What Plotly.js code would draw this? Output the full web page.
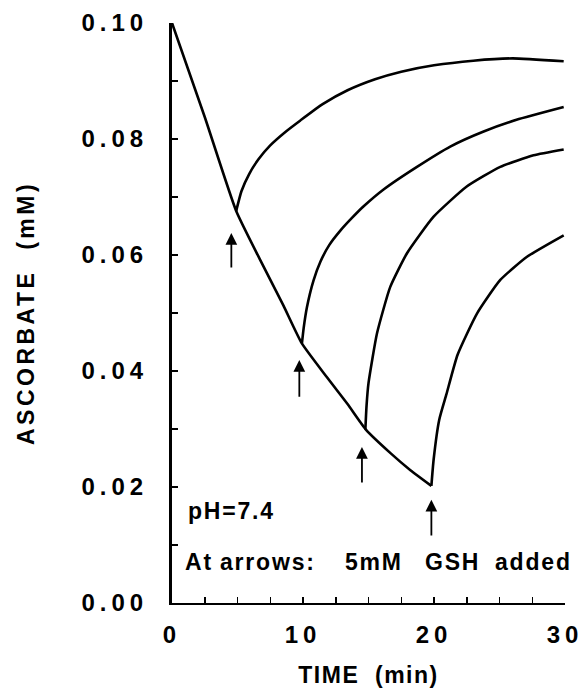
<!DOCTYPE html>
<html>
<head>
<meta charset="utf-8">
<script src="https://cdn.plot.ly/plotly-3.0.1.min.js"></script>
<style>
  html, body { margin: 0; padding: 0; background: #fff; }
  #chart { width: 585px; height: 688px; }
  .xtick text, .ytick text { letter-spacing: 5px; }
  .g-xtitle text { letter-spacing: 1.5px; }
  .g-ytitle text { letter-spacing: 3.5px; }
  .annotation-text { letter-spacing: 1.8px; }
</style>
</head>
<body>
<div id="chart"></div>
<script>
// Main decay curve (no GSH)
const mainTime = [0, 2.5, 4.9, 6.7, 8.5, 9.9, 11.8, 13.4, 14.8, 16.7, 18.2, 19.8];
const mainAsc  = [0.1000, 0.0838, 0.0676, 0.0593, 0.0513, 0.0448, 0.0390, 0.0343, 0.0299, 0.0258, 0.0229, 0.0202];

// Recovery after GSH added at ~5 min
const gsh5Time = [4.9, 5.3, 5.9, 6.6, 7.5, 8.7, 9.8, 11.5, 13.4, 15.5, 17.5, 20.0, 23.0, 26.0, 29.9];
const gsh5Asc  = [0.0676, 0.0710, 0.0740, 0.0765, 0.0789, 0.0813, 0.0832, 0.0860, 0.0884, 0.0903, 0.0916, 0.0927, 0.0935, 0.0939, 0.0934];

// Recovery after GSH added at ~10 min
const gsh10Time = [9.92, 10.05, 10.3, 10.8, 11.32, 12.0, 12.85, 13.7, 14.63, 16.15, 18.7, 21.24, 23.79, 26.3, 29.9];
const gsh10Asc  = [0.0448, 0.0474, 0.0510, 0.0556, 0.0588, 0.0617, 0.0642, 0.0663, 0.0684, 0.0713, 0.0752, 0.0787, 0.0813, 0.0833, 0.0855];

// Recovery after GSH added at ~15 min
const gsh15Time = [14.76, 14.85, 15.0, 15.65, 16.66, 17.94, 19.97, 22.5, 25.06, 27.6, 29.9];
const gsh15Asc  = [0.0299, 0.0340, 0.0379, 0.0465, 0.0545, 0.0603, 0.0666, 0.0718, 0.0752, 0.0772, 0.0782];

// Recovery after GSH added at ~20 min
const gsh20Time = [19.8, 19.97, 20.4, 20.95, 21.8, 23.28, 25.06, 27.1, 29.9];
const gsh20Asc  = [0.0202, 0.0247, 0.0316, 0.0360, 0.0428, 0.0499, 0.0557, 0.0597, 0.0634];

// Arrows marking GSH additions: x, tip, tail
const arrowTime = [4.53, 9.72, 14.5, 19.8];
const arrowTip  = [0.0638, 0.0419, 0.0269, 0.0178];
const arrowTail = [0.0576, 0.0353, 0.0205, 0.0114];

// Axis ticks
const xTickVals = [0, 10, 20, 30];
const xTickText = ['0', '10', '20', '30'];
const yTickVals = [0, 0.02, 0.04, 0.06, 0.08, 0.10];
const yTickText = ['0.00', '0.02', '0.04', '0.06', '0.08', '0.10'];

// Text labels
const noteWords = ['At', 'arrows:', '5mM', 'GSH', 'added'];
const noteX = [0.86, 3.5, 13.07, 19.18, 24.5];
const noteY = 0.0071;
const phLabel = 'pH=7.4';
const phX = 1.1, phY = 0.0158;

const FONT = 'Liberation Sans, Arial, Helvetica, sans-serif';
const lineStyle = {color: '#000', width: 2.6, shape: 'spline', smoothing: 0.5};

const series = [
  [mainTime, mainAsc], [gsh5Time, gsh5Asc], [gsh10Time, gsh10Asc],
  [gsh15Time, gsh15Asc], [gsh20Time, gsh20Asc]
];
const traces = series.map(s => ({
  x: s[0], y: s[1], type: 'scatter', mode: 'lines',
  line: lineStyle, hoverinfo: 'skip'
}));

const textFont = {family: FONT, size: 23, color: '#000', weight: 'bold'};

const annotations = [];
arrowTime.forEach((t, i) => {
  annotations.push({
    x: t, y: arrowTip[i], ax: t, ay: arrowTail[i],
    xref: 'x', yref: 'y', axref: 'x', ayref: 'y',
    text: '', showarrow: true, arrowhead: 2, arrowsize: 1.3,
    arrowwidth: 1.8, arrowcolor: '#000', standoff: 0, startstandoff: 0
  });
});
noteWords.forEach((w, i) => {
  annotations.push({
    x: noteX[i], y: noteY, xref: 'x', yref: 'y', text: w,
    showarrow: false, xanchor: 'left', yanchor: 'middle', font: textFont
  });
});
annotations.push({
  x: phX, y: phY, xref: 'x', yref: 'y', text: phLabel,
  showarrow: false, xanchor: 'left', yanchor: 'middle', font: textFont
});

const tickFont = {family: FONT, size: 24, color: '#000', weight: 'bold'};

const layout = {
  width: 585, height: 688,
  margin: {l: 172, r: 20, t: 23, b: 85, pad: 0},
  paper_bgcolor: '#fff', plot_bgcolor: '#fff',
  showlegend: false,
  font: {family: FONT, color: '#000'},
  xaxis: {
    range: [0, 30], showgrid: false, zeroline: false,
    showline: true, linecolor: '#000', linewidth: 2,
    ticks: 'inside', ticklen: 6, tickwidth: 1.5, tickcolor: '#000',
    tickvals: xTickVals, ticktext: xTickText,
    tickfont: tickFont,
    ticklabelstandoff: 9,
    minor: {dtick: 2.5, ticks: 'inside', ticklen: 6, tickwidth: 1.5, tickcolor: '#000', showgrid: false},
    title: {text: 'TIME  (min)', font: textFont, standoff: 22}
  },
  yaxis: {
    range: [0, 0.10], showgrid: false, zeroline: false,
    showline: true, linecolor: '#000', linewidth: 3,
    ticks: 'inside', ticklen: 6, tickwidth: 1.5, tickcolor: '#000',
    tickvals: yTickVals, ticktext: yTickText,
    tickfont: tickFont,
    ticklabelstandoff: 16,
    minor: {dtick: 0.01, ticks: 'inside', ticklen: 6, tickwidth: 1.5, tickcolor: '#000', showgrid: false},
    title: {text: 'ASCORBATE  (mM)', font: textFont, standoff: 41}
  },
  annotations: annotations
};

Plotly.newPlot('chart', traces, layout, {staticPlot: true, displayModeBar: false});
</script>
</body>
</html>
